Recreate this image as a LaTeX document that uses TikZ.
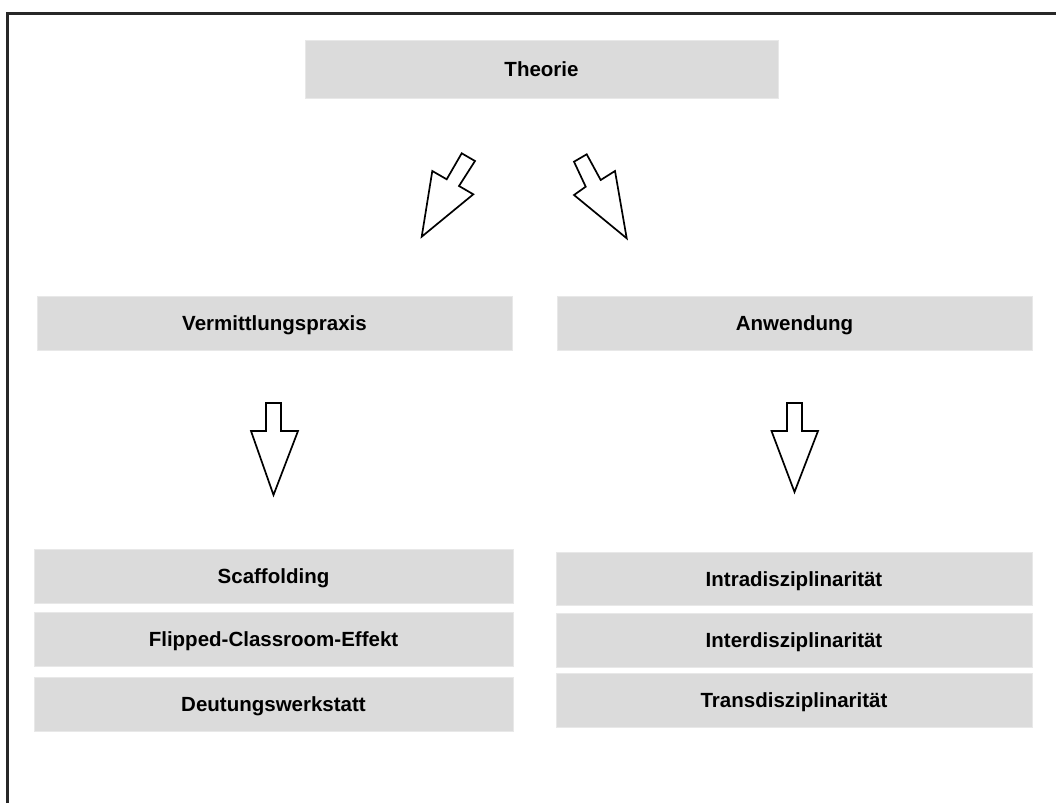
\documentclass[tikz,border=0pt]{standalone}
\usepackage{fontspec}
\setmainfont{Liberation Sans}
\definecolor{boxgray}{RGB}{219,219,219}
\definecolor{boxedge}{RGB}{232,232,232}
\definecolor{framegray}{RGB}{40,40,40}
\begin{document}
\begin{tikzpicture}[x=1pt,y=-1pt,
  box/.style={fill=boxgray,draw=boxedge,line width=0.8pt},
  lbl/.style={font=\fontsize{20.5}{23}\selectfont\bfseries,text=black,text height=15pt,text depth=0pt,inner sep=0pt},
  blockarrow/.style={draw=black,fill=white,line width=1.7pt,line join=miter}]
\useasboundingbox (0,0) rectangle (1056,803);
\fill[white] (0,0) rectangle (1056,803);
% frame (only top and left visible)
\draw[framegray,line width=2.8pt] (7.5,803) -- (7.5,13.5) -- (1056,13.5);
% boxes
\path[box] (305,40) rectangle (778,98) node[midway,lbl] (theorie) {Theorie};
\path[box] (37,296) rectangle (512,350) node[midway,lbl] (verm) {Vermittlungspraxis};
\path[box] (557,296) rectangle (1032,350) node[midway,lbl] (anw) {Anwendung};
\path[box] (34,549) rectangle (513,603) node[midway,lbl] (scaf) {Scaffolding};
\path[box] (34,612) rectangle (513,666) node[midway,lbl] (flip) {Flipped-Classroom-Effekt};
\path[box] (34,677) rectangle (513,731) node[midway,lbl] (deut) {Deutungswerkstatt};
\path[box] (556,552) rectangle (1032,605) node[midway,lbl] (intra) {Intradisziplinarität};
\path[box] (556,613) rectangle (1032,667) node[midway,lbl] (inter) {Interdisziplinarität};
\path[box] (556,673) rectangle (1032,727) node[midway,lbl] (trans) {Transdisziplinarität};
% diagonal block arrows
\draw[blockarrow] (461.7,153.3) -- (475,161) -- (459,186) -- (473.3,194.3) -- (421.7,236.7) -- (432.3,171) -- (446.7,179.3) -- cycle;
\draw[blockarrow] (586.7,154.3) -- (600.7,180) -- (615,171) -- (626.7,238.3) -- (574,195) -- (585.7,186.7) -- (574,161.7) -- cycle;
% vertical block arrows
\draw[blockarrow] (266,403) -- (281,403) -- (281,431) -- (298,431) -- (273.5,495) -- (251,431) -- (266,431) -- cycle;
\draw[blockarrow] (787,403) -- (802,403) -- (802,431) -- (818,431) -- (794.5,492) -- (771.5,431) -- (787,431) -- cycle;
\end{tikzpicture}
\end{document}
